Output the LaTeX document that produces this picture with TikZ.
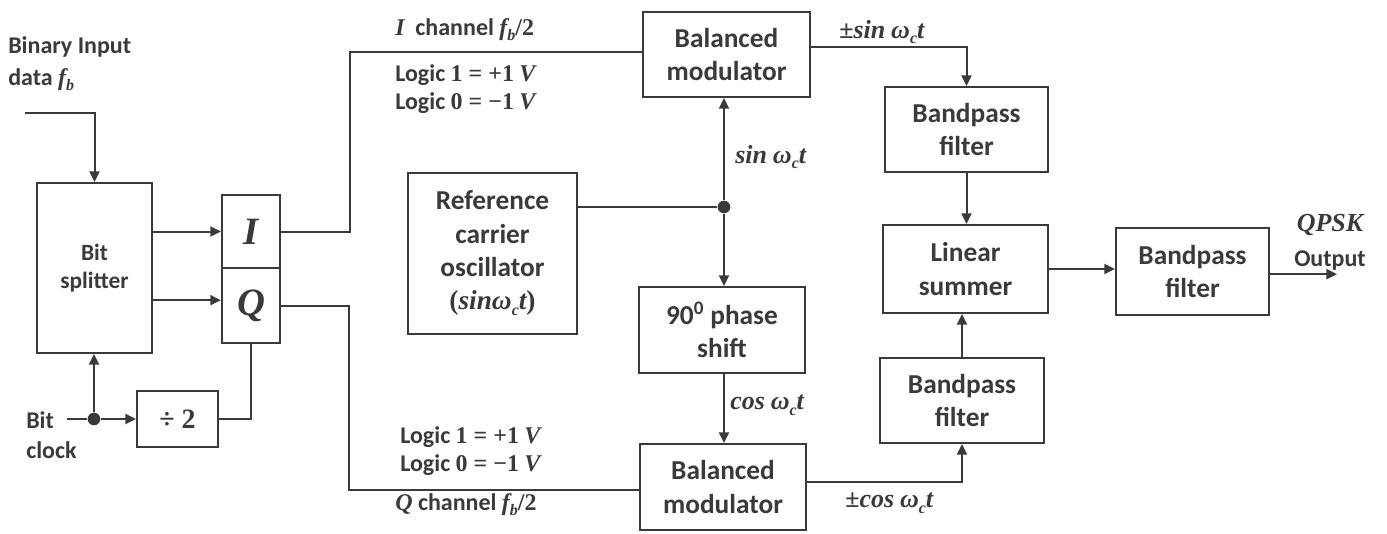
\documentclass[tikz,border=0pt]{standalone}
\usepackage{fontspec}
\setmainfont{Carlito}
\newfontfamily\mfam{Liberation Serif}
\usetikzlibrary{arrows.meta}
\definecolor{ink}{HTML}{3A3A3A}
% text sizes
\newcommand\bxfont{\fontsize{20.5}{25}\selectfont\bfseries}
\newcommand\smfont{\fontsize{17.5}{21}\selectfont\bfseries}
\newcommand\lbfont{\fontsize{18}{21}\selectfont\bfseries}
% bold italic variables, bold upright symbols, small subscripts
\newcommand\mv[1]{{\mfam\bfseries\itshape #1}}
\newcommand\mn[1]{{\mfam\bfseries #1}}
\newcommand\sbs[1]{\raisebox{-0.45ex}{\mfam\bfseries\itshape\fontsize{12}{12}\selectfont #1}}
\newcommand\wct{\mv{ω}\sbs{c}\mv{t}}
\newcommand\fbh{\mv{f}\sbs{b}\mn{/2}}
\tikzset{
  blk/.style={draw=ink, line width=1.6pt, fill=white, text=ink, align=center,
    inner sep=0pt, font=\bxfont},
  sz/.style 2 args={minimum width=#1*0.75pt, minimum height=#2*0.75pt},
  wire/.style={draw=ink, line width=1.5pt},
  arr/.style={wire, -{Triangle[length=8pt,width=7.5pt]}},
  lbl/.style={text=ink, font=\lbfont, inner sep=0pt},
  jdot/.style={circle, fill=ink, inner sep=0pt, minimum size=9.5pt}
}
\begin{document}
\begin{tikzpicture}[x=0.75pt,y=-0.75pt]
\useasboundingbox (0,0) rectangle (1387,533);

% blocks
\node[blk, sz={115}{170}, font=\smfont] (split) at (94.5,268) {Bit\\splitter};
\node[blk, sz={58}{73}, font=\fontsize{29}{30}\selectfont] (I) at (251,231.5) {\mv{I}};
\node[blk, sz={58}{75}, font=\fontsize{29}{30}\selectfont] (Q) at (251,305.5) {\mv{Q}};
\node[blk, sz={81}{56}, font=\fontsize{21}{22}\selectfont] (div) at (177.5,419) {\mn{÷ 2}};
\node[blk, sz={169}{161}] (ref) at (492.5,253.5) {Reference\\carrier\\oscillator\\\mn{(}\mv{sin}\wct\mn{)}};
\node[blk, sz={167}{85}] (mod1) at (726.5,54.5) {Balanced\\modulator};
\node[blk, sz={166}{86}] (ph) at (722,330) {90\textsuperscript{0} phase\\shift};
\node[blk, sz={166}{86}] (mod2) at (723,487) {Balanced\\modulator};
\node[blk, sz={163}{85}] (bpf1) at (966.5,129.5) {Bandpass\\filter};
\node[blk, sz={165}{88}] (sum) at (965.5,269) {Linear\\summer};
\node[blk, sz={164}{85}] (bpf2) at (962,400.5) {Bandpass\\filter};
\node[blk, sz={153}{87}] (bpf3) at (1192.5,271.5) {Bandpass\\filter};

% junctions and free ends
\node[jdot] (j1) at (724,207) {};
\node[jdot] (j2) at (94,419) {};
\coordinate (din) at (25,113);
\coordinate (clk) at (67,419);
\coordinate (iup) at (350,52);
\coordinate (qdn) at (349,490);
\coordinate (qout) at (1337,275);

% connections
\draw[arr] (din) -| (split.north);
\draw[arr] (split.east |- I.west) -- (I.west);
\draw[arr] ([yshift=4pt]split.east |- Q.west) -- ([yshift=4pt]Q.west);
\draw[wire] (clk) -- (j2);
\draw[arr] (j2) -- (j2 |- split.south);
\draw[arr] (j2) -- (div.west);
\draw[wire] (div.east) -| (Q.south);
\draw[wire] (I.east) -| (iup) -- (iup -| mod1.west);
\draw[wire] (Q.east) -| (qdn) -- (qdn -| mod2.west);
\draw[wire] (ref.east |- j1) -- (j1);
\draw[arr] (j1) -- (j1 |- mod1.south);
\draw[arr] (j1) -- (j1 |- ph.north);
\draw[arr] (j1 |- ph.south) -- (j1 |- mod2.north);
\draw[arr] ([yshift=5.5pt]mod1.east) -| (bpf1.north);
\draw[arr] (bpf1.south) -- (bpf1.south |- sum.north);
\draw[arr] (bpf2.north) -- (bpf2.north |- sum.south);
\draw[arr] ([yshift=3.75pt]mod2.east) -| (bpf2.south);
\draw[arr] (sum.east) -- (sum.east -| bpf3.west);
\draw[arr] ([yshift=-2pt]bpf3.east) -- ([yshift=-2pt]bpf3.east -| qout);

% signal labels
\node[lbl, anchor=west, align=left, font=\fontsize{18}{24}\selectfont\bfseries] (bin) at (8,64) {Binary Input\\data \mv{f}\sbs{b}};
\node[lbl, anchor=west, align=left, font=\fontsize{18}{23}\selectfont\bfseries] (bitclk) at (26,435) {Bit\\clock};
\node[lbl, anchor=west] (ich) at (395,30) {\mv{I}\ \ channel \fbh};
\node[lbl, anchor=west, align=left] (ilog) at (395,89) {Logic \mn{1 = +1} \mv{V}\\Logic \mn{0 = −1} \mv{V}};
\node[lbl, anchor=west, align=left] (qlog) at (400,451) {Logic \mn{1 = +1} \mv{V}\\Logic \mn{0 = −1} \mv{V}};
\node[lbl, anchor=west] (qch) at (395,505) {\mv{Q} channel \fbh};
\node[lbl, anchor=west, font=\fontsize{19.5}{21}\selectfont] (sinl) at (735,157) {\mv{sin} \wct};
\node[lbl, anchor=west, font=\fontsize{19.5}{21}\selectfont] (cosl) at (730,405) {\mv{cos} \wct};
\node[lbl, anchor=west, font=\fontsize{19.5}{21}\selectfont] (psin) at (839,32) {\mn{±}\mv{sin} \wct};
\node[lbl, anchor=west, font=\fontsize{19.5}{21}\selectfont] (pcos) at (845,503) {\mn{±}\mv{cos} \wct};
\node[lbl, align=center, font=\fontsize{18}{26}\selectfont\bfseries] (outl) at (1330,242) {{\fontsize{19.5}{21}\selectfont\mv{QPSK}}\\Output};
\end{tikzpicture}
\end{document}
